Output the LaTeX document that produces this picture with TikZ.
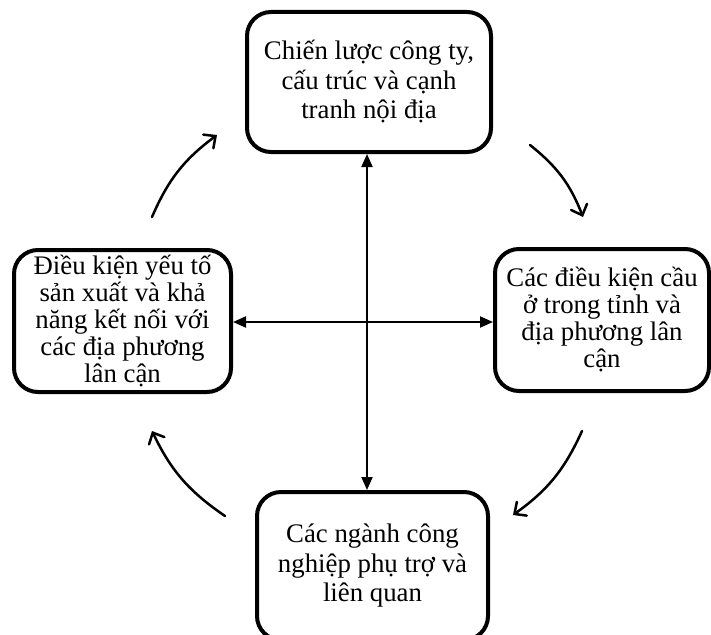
\documentclass[tikz,border=0pt]{standalone}
\usepackage{fontspec}
\setmainfont{Liberation Serif}
\usetikzlibrary{arrows.meta}
\begin{document}
\begin{tikzpicture}[x=1pt,y=-1pt,
  boxnode/.style={draw,line width=4pt,rounded corners=24pt,align=center,inner sep=0pt},
  tallbox/.style={boxnode,font=\fontsize{26.8}{29.5}\selectfont},
  widebox/.style={boxnode,font=\fontsize{26.8}{27}\selectfont},
  straightarrow/.style={line width=2pt,{Triangle[length=13pt,width=11pt]}-{Triangle[length=13pt,width=11pt]}},
  cyclearrow/.style={line width=2.5pt,line cap=round,-{Straight Barb[length=9pt,width=17pt,line cap=round]},bend left=15}
]
\useasboundingbox (0,0) rectangle (711,634);
\node[tallbox,minimum width=244pt,minimum height=140pt] (top) at (369,82)
  {Chiến lược công ty,\\cấu trúc và cạnh\\tranh nội địa};
\node[widebox,minimum width=217pt,minimum height=142pt] (left) at (122.5,321)
  {Điều kiện yếu tố\\sản xuất và khả\\năng kết nối với\\các địa phương\\lân cận};
\node[widebox,minimum width=214pt,minimum height=142pt] (right) at (602,320)
  {Các điều kiện cầu\\ở trong tỉnh và\\địa phương lân\\cận};
\node[tallbox,minimum width=231pt,minimum height=148pt] (bot) at (372.5,566)
  {Các ngành công\\nghiệp phụ trợ và\\liên quan};
\coordinate (cross) at (367,322);
\draw[straightarrow] (top.south -| cross) -- (bot.north -| cross);
\draw[straightarrow] (left.east |- cross) -- (right.west |- cross);
\coordinate (a1s) at (152,217);
\coordinate (a1e) at (217,135);
\coordinate (a2s) at (530,145);
\coordinate (a2e) at (583,217);
\coordinate (a3s) at (582,431);
\coordinate (a3e) at (513,515);
\coordinate (a4s) at (225,516);
\coordinate (a4e) at (152,431);
\draw[cyclearrow] (a1s) to (a1e);
\draw[cyclearrow] (a2s) to (a2e);
\draw[cyclearrow] (a3s) to (a3e);
\draw[cyclearrow] (a4s) to (a4e);
\end{tikzpicture}
\end{document}
